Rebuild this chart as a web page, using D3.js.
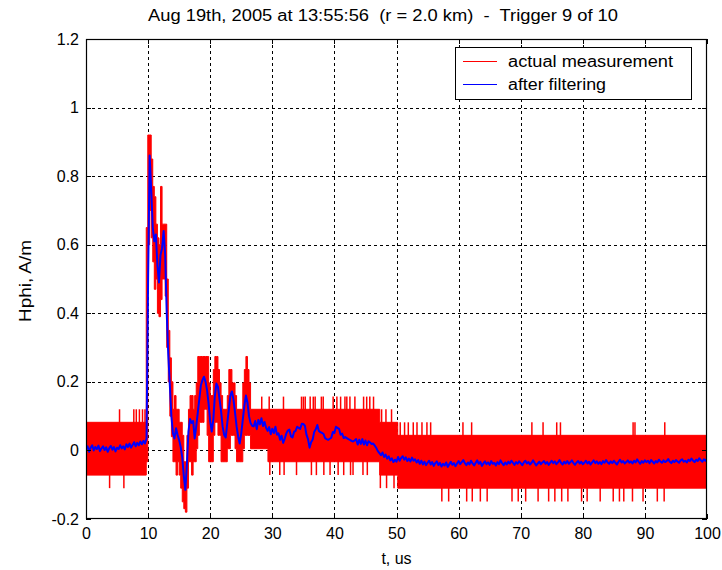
<!DOCTYPE html>
<html><head><meta charset="utf-8">
<script src="https://cdn.jsdelivr.net/npm/d3@7"></script>
<style>
body{margin:0;background:#fff}
svg text{font-family:"Liberation Sans",Arial,Helvetica,sans-serif;fill:#000}
</style>
</head><body>
<svg id="chart" width="722" height="570"></svg>
<script>
// ---------- data ----------
const titleText = "Aug 19th, 2005 at 13:55:56  (r = 2.0 km)  -  Trigger 9 of 10";
const xLabel = "t, us";
const yLabel = "Hphi, A/m";
const xTicks = [0,10,20,30,40,50,60,70,80,90,100];
const yTicks = [-0.2,0,0.2,0.4,0.6,0.8,1.0,1.2];
const yTickLabels = ["-0.2","0","0.2","0.4","0.6","0.8","1","1.2"];
const seriesNames = ["actual measurement","after filtering"];
const seriesColors = ["#ff0000","#0000ff"];

// filtered signal (A/m), sampled every 0.25 us, segments start at the given time
const sampleStep = 0.25;
const blue0to10 = [
 0.005,0.012,-0.004,0.008,0.015,0.000,0.010,0.004,0.014,-0.002,
 0.006,0.012,0.001,0.009,-0.004,0.007,0.013,0.002,0.010,-0.003,
 0.008,0.004,0.015,0.006,0.012,0.003,0.018,0.010,0.020,0.008,
 0.016,0.024,0.012,0.022,0.015,0.026,0.018,0.028,0.020,0.035];
const blue10to27 = [
 0.50,0.86,0.76,0.65,0.61,0.63,0.54,0.49,0.57,0.59,
 0.64,0.57,0.40,0.28,0.19,0.10,0.05,0.035,0.065,0.045,
 0.03,0.01,-0.02,-0.075,-0.115,-0.04,0.055,0.092,0.08,0.086,
 0.035,0.07,0.11,0.15,0.19,0.205,0.215,0.20,0.175,0.135,
 0.085,0.055,0.09,0.16,0.195,0.185,0.15,0.115,0.07,0.045,
 0.038,0.08,0.12,0.16,0.172,0.148,0.11,0.07,0.04,0.02,
 0.05,0.09,0.13,0.16,0.14,0.10,0.08,0.072];
const blue27to47 = [
 0.070,0.086,0.062,0.089,0.076,0.094,0.071,0.083,0.066,0.057,
 0.068,0.047,0.063,0.051,0.069,0.046,0.050,0.031,0.043,0.022,
 0.034,0.049,0.058,0.061,0.041,0.038,0.054,0.057,0.069,0.066,
 0.063,0.078,0.077,0.072,0.046,0.033,0.008,0.024,0.032,0.054,
 0.062,0.074,0.057,0.053,0.051,0.048,0.036,0.033,0.031,0.034,
 0.037,0.054,0.051,0.069,0.066,0.063,0.046,0.049,0.036,0.039,
 0.036,0.033,0.031,0.028,0.026,0.029,0.033,0.017,0.031,0.019,
 0.033,0.017,0.029,0.015,0.027,0.023,0.019,0.020,0.014,0.007,
 -0.002];
const blue47to55 = [
 -0.008,-0.014,-0.006,-0.019,-0.012,-0.024,-0.017,-0.029,
 -0.023,-0.034,-0.027,-0.033,-0.019,-0.030,-0.022,-0.017,
 -0.027,-0.020,-0.031,-0.024,-0.032,-0.021,-0.030,-0.026,
 -0.035,-0.028,-0.039,-0.030,-0.041,-0.033,-0.043,-0.036];
const blue55to100 = [
 -0.030,-0.041,-0.034,-0.045,-0.037,-0.032,-0.043,-0.036,-0.047,-0.039,
 -0.044,-0.035,-0.048,-0.040,-0.033,-0.042,-0.037,-0.046,-0.038,-0.031,
 -0.040,-0.034,-0.028,-0.037,-0.043,-0.035,-0.041,-0.030,-0.038,-0.044,
 -0.036,-0.029,-0.039,-0.033,-0.045,-0.038,-0.032,-0.040,-0.035,-0.042,
 -0.031,-0.039,-0.036,-0.044,-0.034,-0.040,-0.029,-0.037,-0.043,-0.035,
 -0.041,-0.033,-0.038,-0.030,-0.036,-0.042,-0.034,-0.039,-0.032,-0.037,
 -0.043,-0.035,-0.030,-0.038,-0.034,-0.041,-0.036,-0.029,-0.037,-0.044,
 -0.038,-0.033,-0.040,-0.035,-0.031,-0.039,-0.034,-0.042,-0.036,-0.030,
 -0.037,-0.032,-0.040,-0.035,-0.028,-0.036,-0.041,-0.033,-0.038,-0.031,
 -0.039,-0.034,-0.029,-0.037,-0.042,-0.035,-0.031,-0.038,-0.033,-0.040,
 -0.036,-0.030,-0.038,-0.033,-0.041,-0.035,-0.029,-0.037,-0.032,-0.039,
 -0.034,-0.040,-0.031,-0.036,-0.028,-0.035,-0.039,-0.032,-0.037,-0.030,
 -0.036,-0.041,-0.033,-0.027,-0.035,-0.031,-0.038,-0.034,-0.029,-0.036,
 -0.032,-0.038,-0.030,-0.035,-0.026,-0.033,-0.039,-0.031,-0.036,-0.029,
 -0.034,-0.030,-0.037,-0.028,-0.033,-0.038,-0.031,-0.035,-0.027,-0.032,
 -0.036,-0.029,-0.034,-0.031,-0.025,-0.033,-0.037,-0.030,-0.034,-0.028,
 -0.032,-0.036,-0.029,-0.026,-0.033,-0.030,-0.035,-0.027,-0.031,-0.024,
 -0.030,-0.034,-0.027,-0.031,-0.023,-0.029,-0.033,-0.026,-0.030,-0.025];
const blueSegments = [[0,blue0to10],[10,blue10to27],[27,blue27to47],[47.25,blue47to55],[55.25,blue55to100]];

// raw measurement: envelope of the quantised noisy trace [t start, low, high]
const redBand = [
 [0,-0.072,0.082],[9.7,-0.033,0.65],[9.95,0.60,0.92],[10.25,0.70,0.92],[10.5,0.62,0.85],
 [10.75,0.55,0.77],[11.0,0.47,0.74],[11.25,0.50,0.66],[11.5,0.40,0.62],[11.75,0.39,0.60],
 [12.0,0.44,0.77],[12.25,0.50,0.66],[12.5,0.50,0.66],[12.75,0.45,0.66],[13.0,0.30,0.50],
 [13.25,0.20,0.35],[13.5,0.10,0.27],[13.75,0.04,0.20],[14.0,-0.033,0.12],[14.25,-0.033,0.16],
 [14.5,-0.072,0.12],[14.75,-0.033,0.12],[15.0,-0.072,0.082],[15.25,-0.11,0.082],[15.5,-0.15,0.044],
 [15.75,-0.17,-0.033],[16.0,-0.18,-0.033],[16.25,-0.11,0.044],[16.5,-0.033,0.12],[16.75,-0.033,0.16],
 [17.0,-0.072,0.16],[17.25,-0.033,0.12],[17.5,-0.033,0.16],[17.75,0.005,0.197],[18.0,0.044,0.274],
 [18.25,0.082,0.274],[18.5,0.082,0.274],[18.75,0.082,0.274],[19.0,0.12,0.274],[19.25,0.12,0.274],
 [19.5,0.044,0.274],[19.75,-0.033,0.197],[20.0,-0.033,0.16],[20.25,-0.033,0.16],[20.5,0.044,0.236],
 [20.75,0.082,0.274],[21.0,0.082,0.274],[21.25,0.044,0.236],[21.5,0.044,0.197],[21.75,-0.033,0.16],
 [22.0,-0.033,0.12],[22.25,-0.033,0.12],[22.5,-0.033,0.12],[22.75,0.005,0.16],[23.0,0.005,0.236],
 [23.25,0.044,0.236],[23.5,0.044,0.197],[23.75,0.044,0.197],[24.0,0.005,0.16],[24.25,-0.033,0.12],
 [24.5,-0.033,0.12],[24.75,-0.033,0.12],[25.0,-0.033,0.12],[25.25,0.005,0.197],[25.5,0.044,0.236],
 [25.75,0.044,0.274],[26.0,0.044,0.236],[26.25,0.044,0.197],[26.5,0.005,0.12],[29.3,-0.033,0.12],
 [47.3,-0.072,0.082],[50.2,-0.11,0.044],[100,-0.11,0.044]];
// isolated noise excursions beyond the band [t, value]
const redSpikes = [
 [3.8,-0.11],[5.4,0.12],[6.1,-0.11],[7.7,0.12],[8.1,0.12],[8.6,0.12],[9.1,0.12],[9.5,0.12],
 [28.3,0.157],[29.5,0.157],[29.6,-0.072],[31.2,-0.072],[31.8,0.157],[31.9,-0.072],[33.9,-0.072],
 [34.7,0.157],[35.0,0.157],[35.3,0.157],[36.1,0.157],[36.3,-0.072],[36.6,0.157],[36.9,0.157],
 [37.1,-0.072],[37.9,0.157],[38.2,0.157],[38.3,-0.072],[39.3,-0.072],[39.8,0.157],[40.4,0.157],
 [40.6,-0.072],[41.0,0.157],[41.5,-0.072],[41.7,0.157],[42.0,0.157],[42.5,0.157],[42.6,-0.072],
 [43.0,-0.072],[43.3,0.157],[44.6,-0.072],[44.7,0.157],[45.2,0.157],[45.3,-0.072],[45.7,0.157],[46.3,0.157],
 [47.4,-0.11],[47.6,0.12],[48.3,0.12],[48.4,-0.11],[49.2,0.12],[49.6,-0.11],
 [50.6,0.082],[51.3,0.082],[51.9,0.082],[52.7,0.082],[53.3,0.082],[54.1,0.082],[54.9,0.082],[55.5,0.082],
 [57.3,-0.149],[58.4,-0.149],[60.7,0.082],[61.3,-0.149],[62.1,0.082],[62.2,-0.149],[63.5,-0.149],
 [64.6,-0.149],[68.6,-0.149],[69.6,-0.149],[70.8,-0.149],[71.8,0.082],[72.8,-0.149],[73.6,0.082],
 [74.5,-0.149],[75.5,-0.149],[75.8,0.082],[76.4,0.082],[76.6,-0.149],[77.6,-0.149],[79.8,-0.149],
 [80.7,-0.149],[82.8,-0.149],[84.9,-0.149],[85.9,-0.149],[86.6,-0.149],[88.0,-0.149],[88.1,0.082],
 [88.4,0.082],[89.7,-0.149],[92.0,-0.149],[93.1,-0.149],[93.2,0.082]];

// ---------- drawing ----------
const svg = d3.select("#chart");
const L = 86, R = 707, T = 39, B = 519;
const x = d3.scaleLinear().domain([0,100]).range([L,R]);
const y = d3.scaleLinear().domain([-0.2,1.2]).range([B,T]);
const px = v => Math.round(v) + 0.5;

svg.append("rect").attr("width",722).attr("height",570).attr("fill","#fff");
svg.append("defs").append("clipPath").attr("id","clip")
  .append("rect").attr("x",L).attr("y",T).attr("width",R-L).attr("height",B-T);

// grid
const grid = svg.append("g").attr("stroke","#000").attr("stroke-width",1)
  .attr("stroke-dasharray","3,3").attr("shape-rendering","crispEdges");
grid.selectAll("line.vx").data(xTicks.filter(d=>d>0&&d<100)).join("line")
  .attr("x1",d=>px(x(d))).attr("x2",d=>px(x(d))).attr("y1",T).attr("y2",B);
grid.selectAll("line.hy").data(yTicks.filter(d=>d>-0.2&&d<1.2)).join("line")
  .attr("y1",d=>px(y(d))).attr("y2",d=>px(y(d))).attr("x1",L).attr("x2",R);

const plot = svg.append("g").attr("clip-path","url(#clip)");

// red raw measurement
const area = d3.area().x(d=>x(d[0])).y0(d=>y(d[1])).y1(d=>y(d[2])).curve(d3.curveStepAfter);
plot.append("path").datum(redBand).attr("d",area)
  .attr("fill",seriesColors[0]).attr("stroke",seriesColors[0]).attr("stroke-width",1);
plot.selectAll("line.spike").data(redSpikes).join("line")
  .attr("x1",d=>x(d[0])).attr("x2",d=>x(d[0]))
  .attr("y1",y(0.02)).attr("y2",d=>y(d[1]))
  .attr("stroke",seriesColors[0]).attr("stroke-width",1.5);

// blue filtered
const bluePts = [];
blueSegments.forEach(([t0,vals]) => vals.forEach((v,i) => bluePts.push([t0 + i*sampleStep, v])));
plot.append("path").datum(bluePts)
  .attr("d", d3.line().x(d=>x(d[0])).y(d=>y(d[1])))
  .attr("fill","none").attr("stroke",seriesColors[1]).attr("stroke-width",2)
  .attr("stroke-linejoin","round");

// axes
const fontSize = 16;
function styleAxis(g, showText){
  g.select(".domain").remove();
  g.selectAll(".tick line").attr("stroke","#000").attr("shape-rendering","crispEdges");
  g.selectAll(".tick text").attr("font-size",fontSize)
    .attr("font-family",'"Liberation Sans",Arial,sans-serif');
  if(!showText) g.selectAll(".tick text").remove();
}
svg.append("g").attr("transform",`translate(0,${B})`)
  .call(d3.axisBottom(x).tickValues(xTicks).tickSize(-5).tickPadding(9).tickFormat(d3.format("d")))
  .call(g=>styleAxis(g,true));
svg.append("g").attr("transform",`translate(0,${T})`)
  .call(d3.axisTop(x).tickValues(xTicks).tickSize(-5))
  .call(g=>styleAxis(g,false));
svg.append("g").attr("transform",`translate(${L},0)`)
  .call(d3.axisLeft(y).tickValues(yTicks).tickSize(-5).tickPadding(7).tickFormat((d,i)=>yTickLabels[i]))
  .call(g=>styleAxis(g,true));
svg.append("g").attr("transform",`translate(${R},0)`)
  .call(d3.axisRight(y).tickValues(yTicks).tickSize(-5))
  .call(g=>styleAxis(g,false));

// frame
svg.append("rect").attr("x",L+0.5).attr("y",T+0.5).attr("width",R-L-1).attr("height",B-T-1)
  .attr("fill","none").attr("stroke","#000").attr("stroke-width",1.2);

// title and labels
svg.append("text").attr("x",383).attr("y",21).attr("text-anchor","middle")
  .attr("font-size",16).attr("xml:space","preserve").style("white-space","pre")
  .attr("textLength",470).attr("lengthAdjust","spacingAndGlyphs").text(titleText);
svg.append("text").attr("x",(L+R)/2).attr("y",564).attr("text-anchor","middle")
  .attr("font-size",16).text(xLabel);
svg.append("text").attr("transform","translate(31,281) rotate(-90)").attr("text-anchor","middle")
  .attr("font-size",16).attr("textLength",82).attr("lengthAdjust","spacingAndGlyphs").text(yLabel);

// legend
const lg = svg.append("g");
lg.append("rect").attr("x",455.5).attr("y",47.5).attr("width",236).attr("height",52)
  .attr("fill","#fff").attr("stroke","#000").attr("stroke-width",1);
seriesNames.forEach((name,i)=>{
  const ly = 61 + i*23;
  lg.append("line").attr("x1",463).attr("x2",497).attr("y1",ly+0.5).attr("y2",ly+0.5)
    .attr("stroke",seriesColors[i]).attr("stroke-width",1.2);
  lg.append("text").attr("x",508).attr("y",ly+5.5).attr("font-size",16)
    .attr("textLength", i===0 ? 165 : 98).attr("lengthAdjust","spacingAndGlyphs").text(name);
});
</script>
</body></html>
